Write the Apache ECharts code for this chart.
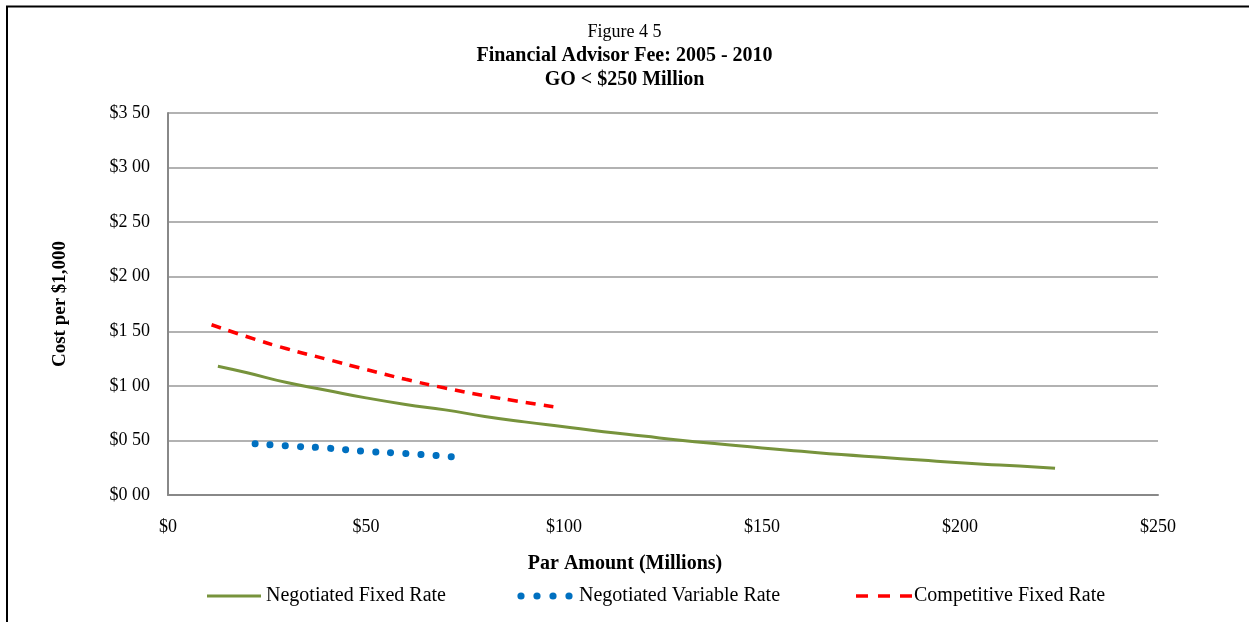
<!DOCTYPE html>
<html>
<head>
<meta charset="utf-8">
<script src="https://cdn.jsdelivr.net/npm/echarts@6/dist/echarts.min.js"></script>
<style>
  html, body { margin: 0; padding: 0; background: #fff; }
  #chart { width: 1249px; height: 622px; }
</style>
</head>
<body>
<div id="chart"></div>
<script>
// Par amount (millions) and cost per $1,000 for each fee series
const seriesNames = ['Negotiated Fixed Rate', 'Negotiated Variable Rate', 'Competitive Fixed Rate'];
const seriesColors = ['#77933C', '#0070C0', '#FF0000'];

const fixedNegX = [12.6, 20, 30, 40, 50, 60, 70, 80, 90, 100, 110, 120, 130, 140, 150, 160, 170, 180, 190, 200, 210, 220, 224];
const fixedNegY = [1.18, 1.12, 1.03, 0.96, 0.89, 0.83, 0.78, 0.72, 0.67, 0.625, 0.58, 0.54, 0.50, 0.465, 0.43, 0.40, 0.37, 0.345, 0.32, 0.295, 0.275, 0.255, 0.245];

const variableNegX = [22, 30, 40, 50, 60, 72];
const variableNegY = [0.47, 0.45, 0.43, 0.40, 0.38, 0.35];

const fixedCompX = [11, 20, 30, 40, 50, 60, 70, 80, 90, 99];
const fixedCompY = [1.56, 1.45, 1.34, 1.245, 1.15, 1.06, 0.98, 0.91, 0.85, 0.80];

const yTickLabels = ['$0 00', '$0 50', '$1 00', '$1 50', '$2 00', '$2 50', '$3 00', '$3 50'];
const xTickLabels = ['$0', '$50', '$100', '$150', '$200', '$250'];

const pairs = (xs, ys) => xs.map((x, i) => [x, ys[i]]);

const serif = 'Liberation Serif, DejaVu Serif, serif';
const chart = echarts.init(document.getElementById('chart'));

// Hand-drawn legend keys along the bottom row
const legendY = 596;
const legendText = (x, text) => ({
  type: 'text', left: x, top: legendY - 10, silent: true,
  style: { text: text, fontFamily: serif, fontSize: 20, fill: '#000' }
});
const legendGraphics = [
  { type: 'line', silent: true, shape: { x1: 207, y1: legendY, x2: 261, y2: legendY },
    style: { stroke: seriesColors[0], lineWidth: 3 } },
  legendText(266, seriesNames[0]),
  ...[521, 537, 553, 569].map(cx => ({
    type: 'circle', silent: true, shape: { cx: cx, cy: legendY, r: 3.6 },
    style: { fill: seriesColors[1] }
  })),
  legendText(579, seriesNames[1]),
  { type: 'line', silent: true, shape: { x1: 856, y1: legendY, x2: 912, y2: legendY },
    style: { stroke: seriesColors[2], lineWidth: 3.5, lineDash: [12, 10] } },
  legendText(914, seriesNames[2])
];

chart.setOption({
  animation: false,
  backgroundColor: '#ffffff',
  title: [
    { text: 'Figure 4 5', left: 'center', top: 18,
      textStyle: { fontFamily: serif, fontSize: 18, fontWeight: 'normal', color: '#000' } },
    { text: 'Financial Advisor Fee: 2005 - 2010', left: 'center', top: 41,
      textStyle: { fontFamily: serif, fontSize: 20, fontWeight: 'bold', color: '#000' } },
    { text: 'GO < $250 Million', left: 'center', top: 65,
      textStyle: { fontFamily: serif, fontSize: 20, fontWeight: 'bold', color: '#000' } }
  ],
  graphic: [
    { type: 'rect', shape: { x: 7, y: 6.5, width: 1260, height: 700 },
      style: { fill: 'none', stroke: '#000', lineWidth: 2 }, silent: true, z: 0 },
    ...legendGraphics
  ],
  grid: { left: 168, right: 91, top: 113, bottom: 127, containLabel: false },
  xAxis: {
    type: 'value', min: 0, max: 250, interval: 50,
    axisLine: { show: true, lineStyle: { color: '#888', width: 2 } },
    axisTick: { show: false },
    splitLine: { show: false },
    axisLabel: {
      margin: 23, fontFamily: serif, fontSize: 18, color: '#000',
      formatter: (v) => xTickLabels[Math.round(v / 50)]
    },
    name: 'Par Amount (Millions)', nameLocation: 'middle', nameGap: 59,
    nameTextStyle: { fontFamily: serif, fontSize: 20, fontWeight: 'bold', color: '#000', padding: [0, 76, 0, 0] }
  },
  yAxis: {
    type: 'value', min: 0, max: 3.5, interval: 0.5,
    axisLine: { show: true, lineStyle: { color: '#888', width: 2 } },
    axisTick: { show: false },
    splitLine: { show: true, lineStyle: { color: '#999', width: 1.5 } },
    axisLabel: {
      margin: 18, fontFamily: serif, fontSize: 18, color: '#000',
      formatter: (v) => yTickLabels[Math.round(v / 0.5)]
    },
    name: 'Cost per $1,000', nameLocation: 'middle', nameGap: 98,
    nameTextStyle: { fontFamily: serif, fontSize: 19, fontWeight: 'bold', color: '#000' }
  },
  series: [
    {
      name: seriesNames[0], type: 'line', smooth: true, symbol: 'none',
      lineStyle: { color: seriesColors[0], width: 3 },
      data: pairs(fixedNegX, fixedNegY), z: 3
    },
    {
      name: seriesNames[1], type: 'line', smooth: true, symbol: 'none',
      lineStyle: { color: seriesColors[1], width: 7, type: [0.1, 15], cap: 'round' },
      data: pairs(variableNegX, variableNegY), z: 3
    },
    {
      name: seriesNames[2], type: 'line', smooth: true, symbol: 'none',
      lineStyle: { color: seriesColors[2], width: 3.5, type: [10, 8] },
      data: pairs(fixedCompX, fixedCompY), z: 3
    }
  ]
});
</script>
</body>
</html>
